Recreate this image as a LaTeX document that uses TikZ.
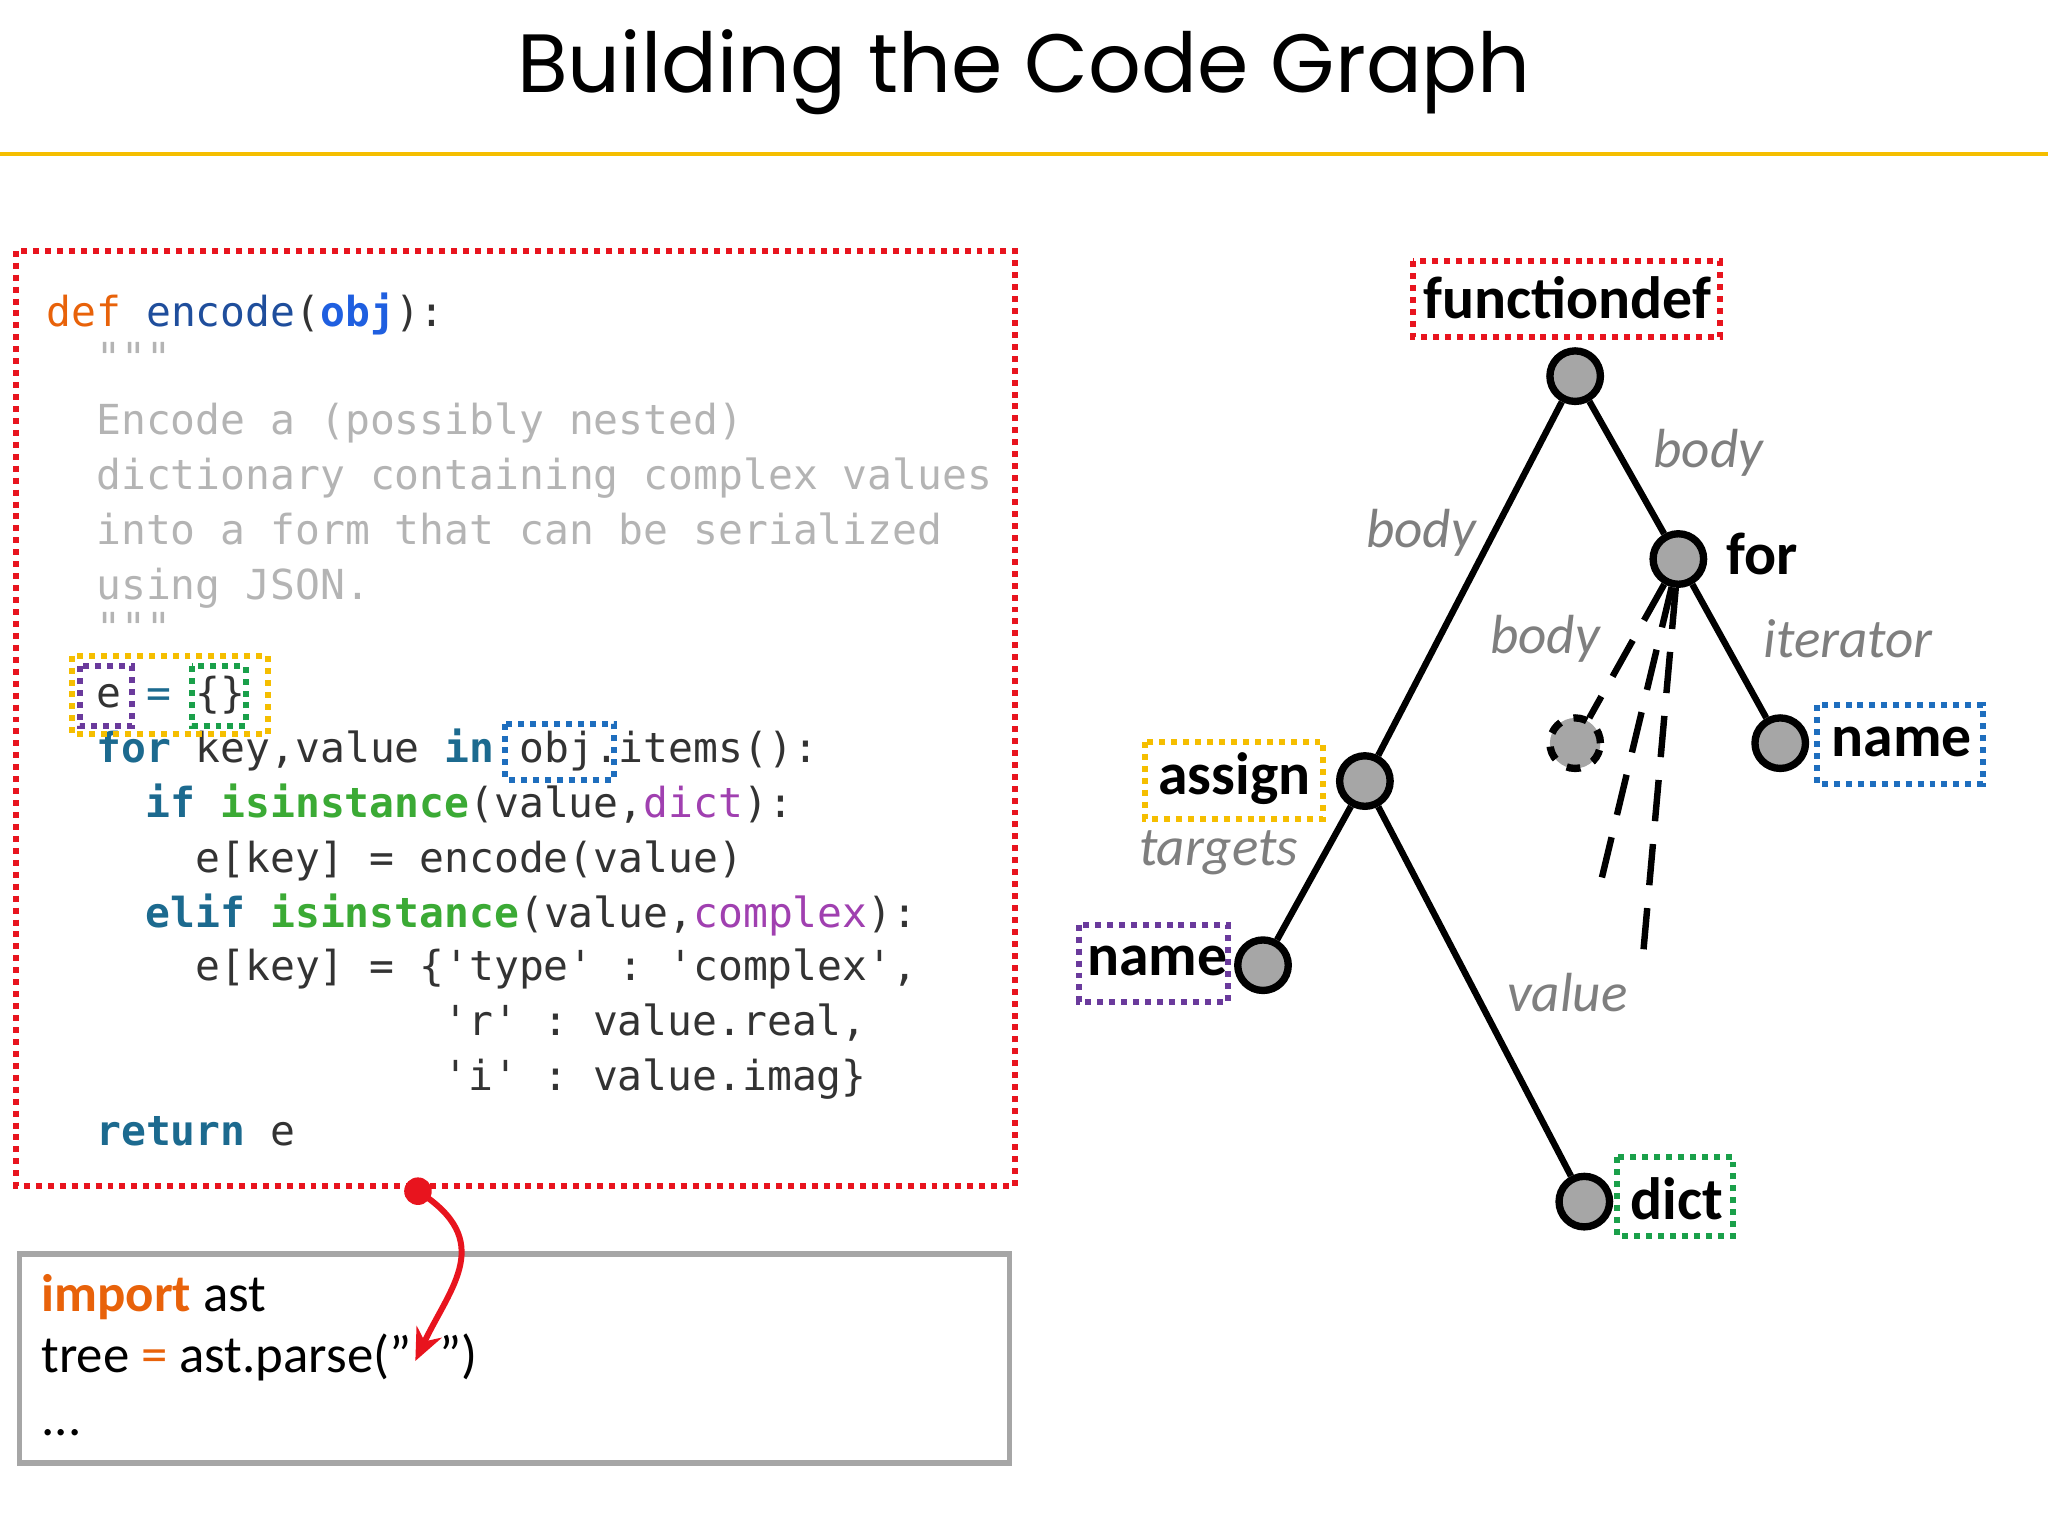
\documentclass[tikz,border=0pt]{standalone}
\usepackage{fontspec}
\usetikzlibrary{arrows.meta}
\setmainfont{Carlito}
\setmonofont{DejaVu Sans Mono}
\newfontfamily\titlefont{Poppins}
\definecolor{kwo}{HTML}{E8620A}
\definecolor{fnb}{HTML}{1F4E9C}
\definecolor{objb}{HTML}{1F5FE0}
\definecolor{kwb}{HTML}{1C6A8F}
\definecolor{grn}{HTML}{3BAA35}
\definecolor{pur}{HTML}{A040B0}
\definecolor{doc}{HTML}{B4B4B4}
\definecolor{txt}{HTML}{333333}
\definecolor{gold}{HTML}{F5BE00}
\definecolor{dred}{HTML}{E8141E}
\definecolor{dpur}{HTML}{6A3A9C}
\definecolor{dblue}{HTML}{1E6EBE}
\definecolor{dgrn}{HTML}{1AA04A}
\definecolor{lbl}{HTML}{7F7F7F}
\tikzset{
 dotbox/.style={draw=#1,line width=1.3pt,dash pattern=on 1.3pt off 1.3pt},
 tnode/.style={circle,draw=black,fill=gray!70,line width=1.6pt,minimum size=11pt,inner sep=0pt},
 edge/.style={line width=1.4pt},
 lab/.style={font=\fontsize{12}{14}\selectfont\itshape,text=lbl},
 bl/.style={font=\fontsize{13}{15}\selectfont\bfseries,inner sep=1pt},
 code/.style={anchor=base west,inner sep=0pt,font=\ttfamily\fontsize{9}{11}\selectfont,text=txt},
}
\newcommand{\cl}[3]{\node[code] at ({35+19*#1},#2) {#3};}
\begin{document}
\begin{tikzpicture}[x=0.01cm,y=-0.01cm]
\useasboundingbox (0,0) rectangle (1568,1176);
\node[font=\titlefont\fontsize{18}{22}\selectfont] (title) at (784,55) {Building the Code Graph};
\draw[gold,line width=0.8pt] (0,118) -- (1568,118);
% code box
\draw[dotbox=dred] (12,192) rectangle (777,908);
\cl{0}{250}{\textcolor{kwo}{def} \textcolor{fnb}{encode}(\textcolor{objb}{\bfseries obj}):}
\cl{2}{285}{\textcolor{doc}{"""}}
\cl{2}{333}{\textcolor{doc}{Encode a (possibly nested)}}
\cl{2}{375}{\textcolor{doc}{dictionary containing complex values}}
\cl{2}{417}{\textcolor{doc}{into a form that can be serialized}}
\cl{2}{459}{\textcolor{doc}{using JSON.}}
\cl{2}{492}{\textcolor{doc}{"""}}
\cl{2}{542}{e \textcolor{kwb}{=} \{\}}
\cl{2}{584}{\textcolor{kwb}{\bfseries for} key,value \textcolor{kwb}{\bfseries in} obj.items():}
\cl{4}{626}{\textcolor{kwb}{\bfseries if} \textcolor{grn}{\bfseries isinstance}(value,\textcolor{pur}{dict}):}
\cl{6}{668}{e[key] = encode(value)}
\cl{4}{710}{\textcolor{kwb}{\bfseries elif} \textcolor{grn}{\bfseries isinstance}(value,\textcolor{pur}{complex}):}
\cl{6}{751}{e[key] = \{'type' : 'complex',}
\cl{16}{793}{'r' : value.real,}
\cl{16}{835}{'i' : value.imag\}}
\cl{2}{877}{\textcolor{kwb}{\bfseries return} e}
\draw[dotbox=gold] (55,502) rectangle (205,562);
\draw[dotbox=dpur] (61,510) rectangle (101,556);
\draw[dotbox=dgrn] (147,510) rectangle (188,556);
\draw[dotbox=dblue] (387,554) rectangle (470,597);
% bottom box
\draw[gray!70,line width=1.2pt] (15,960) rectangle (773,1120);
\node[anchor=base west,font=\fontsize{11.5}{13}\selectfont,inner sep=0pt] (l1) at (31,1004) {\textcolor{kwo}{\bfseries import} ast};
\node[anchor=base west,font=\fontsize{11.5}{13}\selectfont,inner sep=0pt] (l2) at (31,1051) {tree \textcolor{kwo}{=} ast.parse("\hspace{6pt}")};
\node[anchor=base west,font=\fontsize{11.5}{13}\selectfont,inner sep=0pt] (l3) at (31,1099) {...};
\fill[dred] (320,912) circle (3pt);
\coordinate (a0) at (320,912);
\coordinate (a1) at (318,1042);
\draw[dred,line width=1.3pt,-{Stealth[length=7pt,width=6pt]}] (a0) .. controls (380,950) and (345,985) .. (a1);
% tree
\node[tnode] (fd) at (1206,288) {};
\node[tnode] (for) at (1285,428) {};
\node[tnode] (as) at (1045,598) {};
\node[tnode] (nl) at (967,739) {};
\node[tnode] (dc) at (1213,920) {};
\node[tnode] (nr) at (1363,569) {};
\node[tnode,dashed] (dn) at (1206,569) {};
\coordinate (e1) at (1225,678);
\coordinate (e2) at (1257,742);
\draw[edge] (fd) -- (for);
\draw[edge] (fd) -- (as);
\draw[edge] (for) -- (nr);
\draw[edge] (as) -- (nl);
\draw[edge] (as) -- (dc);
\draw[edge,dash pattern=on 9pt off 5pt] (for) -- (dn);
\draw[edge,dash pattern=on 9pt off 5pt] (for) -- (e1);
\draw[edge,dash pattern=on 9pt off 5pt] (for) -- (e2);
\node[lab] (lb1) at (1308,347) {body};
\node[lab] (lb2) at (1088,408) {body};
\node[lab] (lb3) at (1183,489) {body};
\node[lab] (lb4) at (1415,489) {iterator};
\node[lab] (lb5) at (933,653) {targets};
\node[lab] (lb6) at (1200,760) {value};
\node[bl] (tfd) at (1200,228) {functiondef};
\draw[dotbox=dred] (1082,200) rectangle (1317,258);
\node[bl] (tfor) at (1349,424) {for};
\node[bl] (tas) at (945,596) {assign};
\draw[dotbox=gold] (877,568) rectangle (1013,627);
\node[bl] (tnl) at (886,736) {name};
\draw[dotbox=dpur] (826,708) rectangle (940,767);
\node[bl] (tnr) at (1456,568) {name};
\draw[dotbox=dblue] (1391,540) rectangle (1518,600);
\node[bl] (tdc) at (1284,918) {dict};
\draw[dotbox=dgrn] (1238,886) rectangle (1327,946);
\end{tikzpicture}
\end{document}
